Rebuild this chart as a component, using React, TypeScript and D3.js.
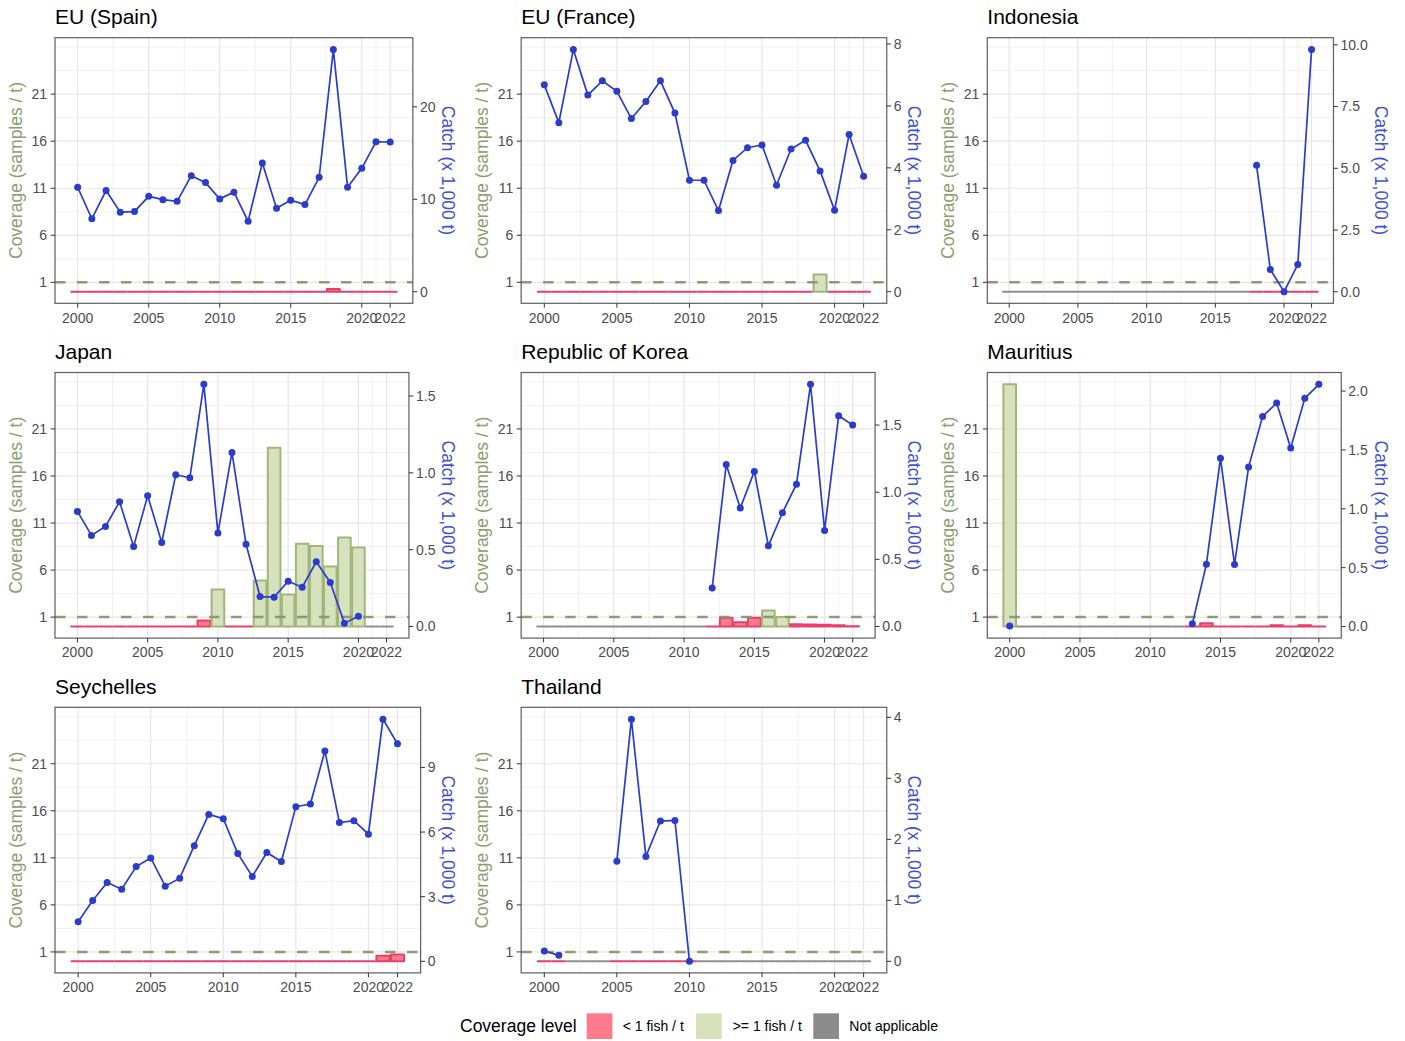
import React from "react";
import * as d3 from "d3";

const FONT = "'Liberation Sans', Arial, Helvetica, sans-serif";

const YEARS = [2000, 2001, 2002, 2003, 2004, 2005, 2006, 2007, 2008, 2009, 2010, 2011, 2012, 2013, 2014, 2015, 2016, 2017, 2018, 2019, 2020, 2021, 2022];
const X_TICKS = [2000, 2005, 2010, 2015, 2020, 2022];
const X_MINOR = [2002.5, 2007.5, 2012.5, 2017.5, 2021];
const Y_TICKS = [1, 6, 11, 16, 21];
const Y_MINOR = [3.5, 8.5, 13.5, 18.5, 23.5, 26];

// L = "< 1 fish / t", G = ">= 1 fish / t", N = "Not applicable"
const LEVEL_KEYS = ["L", "G", "N"];
const LEVEL_LABELS = ["< 1 fish / t", ">= 1 fish / t", "Not applicable"];

const _ = null;

// EU (Spain)
const SPAIN_CATCH = [11.3, 7.88, 10.94, 8.6, 8.67, 10.32, 9.96, 9.78, 12.55, 11.8, 10.04, 10.76, 7.63, 13.92, 9.03, 9.89, 9.42, 12.37, 26.19, 11.3, 13.35, 16.22, 16.19];
const SPAIN_COV = [0, 0, 0, 0, 0, 0, 0, 0, 0, 0, 0, 0, 0, 0, 0, 0, 0, 0, 0.3, 0, 0, 0, 0];
const SPAIN_LEVEL = "LLLLLLLLLLLLLLLLLLLLLLL";
const SPAIN_SEC = [0, 10, 20];
const SPAIN_SEC_LABELS = ["0", "10", "20"];

// EU (France)
const FRANCE_CATCH = [6.68, 5.46, 7.82, 6.35, 6.81, 6.47, 5.59, 6.14, 6.81, 5.77, 3.6, 3.6, 2.62, 4.24, 4.65, 4.74, 3.44, 4.61, 4.89, 3.9, 2.63, 5.08, 3.73];
const FRANCE_COV = [0, 0, 0, 0, 0, 0, 0, 0, 0, 0, 0, 0, 0, 0, 0, 0, 0, 0, 0, 1.84, 0, 0, 0];
const FRANCE_LEVEL = "LLLLLLLLLLLLLLLLLLLGLLL";
const FRANCE_SEC = [0, 2, 4, 6, 8];
const FRANCE_SEC_LABELS = ["0", "2", "4", "6", "8"];

// Indonesia
const INDO_CATCH = [_, _, _, _, _, _, _, _, _, _, _, _, _, _, _, _, _, _, 5.12, 0.9, 0.0, 1.1, 9.81];
const INDO_COV = [0, 0, 0, 0, 0, 0, 0, 0, 0, 0, 0, 0, 0, 0, 0, 0, 0, 0, 0, 0, 0, 0, 0];
const INDO_LEVEL = "NNNNNNNNNNNNNNNNNNLLLLL";
const INDO_SEC = [0, 2.5, 5, 7.5, 10];
const INDO_SEC_LABELS = ["0.0", "2.5", "5.0", "7.5", "10.0"];

// Japan
const JAPAN_CATCH = [0.749, 0.593, 0.651, 0.812, 0.521, 0.851, 0.547, 0.988, 0.968, 1.576, 0.608, 1.133, 0.536, 0.195, 0.191, 0.295, 0.256, 0.421, 0.287, 0.022, 0.067, _, _];
const JAPAN_COV = [0, 0, 0, 0, 0, 0, 0, 0, 0, 0.64, 3.94, 0, 0, 4.9, 19.0, 3.4, 8.8, 8.55, 6.39, 9.47, 8.4, 0, 0];
const JAPAN_LEVEL = "LLLLLLLLLLGLLGGGGGGGGNN";
const JAPAN_SEC = [0, 0.5, 1, 1.5];
const JAPAN_SEC_LABELS = ["0.0", "0.5", "1.0", "1.5"];

// Republic of Korea
const KOREA_CATCH = [_, _, _, _, _, _, _, _, _, _, _, _, 0.286, 1.207, 0.882, 1.155, 0.601, 0.847, 1.06, 1.803, 0.715, 1.569, 1.5];
const KOREA_COV = [0, 0, 0, 0, 0, 0, 0, 0, 0, 0, 0, 0, 0, 0.92, 0.46, 0.92, 1.7, 1.0, 0.25, 0.21, 0.18, 0.14, 0.04];
const KOREA_LEVEL = "NNNNNNNNNNNNLLLLGGLLLLL";
const KOREA_SEC = [0, 0.5, 1, 1.5];
const KOREA_SEC_LABELS = ["0.0", "0.5", "1.0", "1.5"];

// Mauritius
const MAUR_CATCH = [0.005, _, _, _, _, _, _, _, _, _, _, _, _, 0.023, 0.53, 1.43, 0.527, 1.354, 1.785, 1.898, 1.516, 1.938, 2.057];
const MAUR_COV = [25.74, 0, 0, 0, 0, 0, 0, 0, 0, 0, 0, 0, 0, 0, 0.35, 0, 0, 0, 0, 0.14, 0, 0.14, 0];
const MAUR_LEVEL = "GNNNNNNNNNNNNLLLLLLLLLL";
const MAUR_SEC = [0, 0.5, 1, 1.5, 2];
const MAUR_SEC_LABELS = ["0.0", "0.5", "1.0", "1.5", "2.0"];

// Seychelles
const SEY_CATCH = [1.84, 2.82, 3.66, 3.35, 4.4, 4.8, 3.49, 3.86, 5.37, 6.82, 6.62, 5.0, 3.94, 5.05, 4.63, 7.18, 7.3, 9.76, 6.44, 6.53, 5.9, 11.24, 10.1];
const SEY_COV = [0, 0, 0, 0, 0, 0, 0, 0, 0, 0, 0, 0, 0, 0, 0, 0, 0, 0, 0, 0, 0, 0.58, 0.72];
const SEY_LEVEL = "LLLLLLLLLLLLLLLLLLLLLLL";
const SEY_SEC = [0, 3, 6, 9];
const SEY_SEC_LABELS = ["0", "3", "6", "9"];

// Thailand
const THAI_CATCH = [0.169, 0.098, _, _, _, 1.64, 3.97, 1.72, 2.3, 2.31, 0.0, _, _, _, _, _, _, _, _, _, _, _, _];
const THAI_COV = [0, 0, 0, 0, 0, 0, 0, 0, 0, 0, 0, 0, 0, 0, 0, 0, 0, 0, 0, 0, 0, 0, 0];
const THAI_LEVEL = "LLNNNLLLLLLNNNNNNNNNNNN";
const THAI_SEC = [0, 1, 2, 3, 4];
const THAI_SEC_LABELS = ["0", "1", "2", "3", "4"];

const PANELS = [
  { title: "EU (Spain)", catch: SPAIN_CATCH, cov: SPAIN_COV, level: SPAIN_LEVEL, sec: SPAIN_SEC, secLabels: SPAIN_SEC_LABELS },
  { title: "EU (France)", catch: FRANCE_CATCH, cov: FRANCE_COV, level: FRANCE_LEVEL, sec: FRANCE_SEC, secLabels: FRANCE_SEC_LABELS },
  { title: "Indonesia", catch: INDO_CATCH, cov: INDO_COV, level: INDO_LEVEL, sec: INDO_SEC, secLabels: INDO_SEC_LABELS },
  { title: "Japan", catch: JAPAN_CATCH, cov: JAPAN_COV, level: JAPAN_LEVEL, sec: JAPAN_SEC, secLabels: JAPAN_SEC_LABELS },
  { title: "Republic of Korea", catch: KOREA_CATCH, cov: KOREA_COV, level: KOREA_LEVEL, sec: KOREA_SEC, secLabels: KOREA_SEC_LABELS },
  { title: "Mauritius", catch: MAUR_CATCH, cov: MAUR_COV, level: MAUR_LEVEL, sec: MAUR_SEC, secLabels: MAUR_SEC_LABELS },
  { title: "Seychelles", catch: SEY_CATCH, cov: SEY_COV, level: SEY_LEVEL, sec: SEY_SEC, secLabels: SEY_SEC_LABELS },
  { title: "Thailand", catch: THAI_CATCH, cov: THAI_COV, level: THAI_LEVEL, sec: THAI_SEC, secLabels: THAI_SEC_LABELS },
];

const COV_MAX = d3.max(PANELS.flatMap((p) => p.cov)) as number;

const FILL: Record<string, string> = { L: "#FF7A8C", G: "#D6E2BB", N: "#8C8C8C" };
const STROKE: Record<string, string> = { L: "#E8406A", G: "#A2B57F", N: "#8E8E8E" };

const BLUE = "#2B3CCB";
const OLIVE_TITLE = "#8C9E6E";
const BLUE_TITLE = "#4050D8";
const TICK_TXT = "#4D4D4D";

const COL_W = 466.15;
const ROW_H = 334.8;
const PANEL_H = 265.6;
const X_DOMAIN = [1998.405, 2023.595];
const Y_DOMAIN = [-1.23, 27.0];

function textW(s: string, size = 14) {
  let w = 0;
  for (const ch of s) w += ch === "." ? 0.278 : 0.556;
  return w * size;
}

function Panel({ p, col, row }: any) {
  const cx = col * COL_W;
  const top = 37.7 + row * ROW_H;
  const bottom = top + PANEL_H;
  const left = cx + 55;
  const labelW = Math.max(...p.secLabels.map((s: string) => textW(s)));
  const right = cx + 440 - 4.5 - labelW - 2.7 - 4.4;
  const x = d3.scaleLinear().domain(X_DOMAIN).range([left, right]);
  const y = d3.scaleLinear().domain(Y_DOMAIN).range([bottom, top]);
  const maxCatch = d3.max(p.catch as (number | null)[], (d) => (d == null ? undefined : d)) as number;
  const f = COV_MAX / maxCatch;
  const pts = YEARS.map((yr, i) => ({ yr, c: p.catch[i] as number | null }));
  const line = d3
    .line<{ yr: number; c: number | null }>()
    .defined((d) => d.c != null)
    .x((d) => x(d.yr))
    .y((d) => y((d.c as number) * f));
  const midY = (top + bottom) / 2;
  const bw = 0.45;

  return (
    <g>
      <text x={left} y={top - 13.3} fontSize={21} fill="#000" fontFamily={FONT}>
        {p.title}
      </text>
      <rect x={left} y={top} width={right - left} height={bottom - top} fill="#fff" />
      {Y_MINOR.map((v) => (
        <line key={"ym" + v} x1={left} x2={right} y1={y(v)} y2={y(v)} stroke="#EBEBEB" strokeWidth={0.7} />
      ))}
      {X_MINOR.map((v) => (
        <line key={"xm" + v} x1={x(v)} x2={x(v)} y1={top} y2={bottom} stroke="#EBEBEB" strokeWidth={0.7} />
      ))}
      {Y_TICKS.map((v) => (
        <line key={"yg" + v} x1={left} x2={right} y1={y(v)} y2={y(v)} stroke="#E6E6E6" strokeWidth={1.2} />
      ))}
      {X_TICKS.map((v) => (
        <line key={"xg" + v} x1={x(v)} x2={x(v)} y1={top} y2={bottom} stroke="#E6E6E6" strokeWidth={1.2} />
      ))}
      {YEARS.map((yr, i) => {
        const lv = p.level[i];
        const x0 = x(yr - bw);
        const x1 = x(yr + bw);
        const y0 = y(0);
        const y1 = y(p.cov[i]);
        return (
          <path
            key={"b" + yr}
            d={`M${x0},${y0}H${x1}V${y1}H${x0}Z`}
            fill={FILL[lv]}
            stroke={STROKE[lv]}
            strokeWidth={2}
            strokeLinejoin="round"
          />
        );
      })}
      <line
        x1={left}
        x2={right}
        y1={y(1)}
        y2={y(1)}
        stroke="#8A9670"
        strokeWidth={2.5}
        strokeDasharray="10.5,11.5"
        opacity={0.95}
      />
      <path d={line(pts) || ""} fill="none" stroke={BLUE} strokeWidth={1.7} />
      {pts
        .filter((d) => d.c != null)
        .map((d) => (
          <circle key={"p" + d.yr} cx={x(d.yr)} cy={y((d.c as number) * f)} r={3.5} fill={BLUE} />
        ))}
      <rect x={left} y={top} width={right - left} height={bottom - top} fill="none" stroke="#5E5E5E" strokeWidth={1.2} />
      {/* left axis */}
      {Y_TICKS.map((v) => (
        <g key={"yt" + v}>
          <line x1={left - 4.4} x2={left} y1={y(v)} y2={y(v)} stroke="#333" strokeWidth={1} />
          <text x={left - 7.9} y={y(v)} dy="0.35em" textAnchor="end" fontSize={14} fill={TICK_TXT} fontFamily={FONT}>
            {v}
          </text>
        </g>
      ))}
      {/* right axis */}
      {p.sec.map((v: number, i: number) => (
        <g key={"st" + v}>
          <line x1={right} x2={right + 4.4} y1={y(v * f)} y2={y(v * f)} stroke="#333" strokeWidth={1} />
          <text x={right + 7.1} y={y(v * f)} dy="0.35em" textAnchor="start" fontSize={14} fill={TICK_TXT} fontFamily={FONT}>
            {p.secLabels[i]}
          </text>
        </g>
      ))}
      {/* bottom axis */}
      {X_TICKS.map((v) => (
        <g key={"xt" + v}>
          <line x1={x(v)} x2={x(v)} y1={bottom} y2={bottom + 4.4} stroke="#333" strokeWidth={1} />
          <text x={x(v)} y={bottom + 19.3} textAnchor="middle" fontSize={14} fill={TICK_TXT} fontFamily={FONT}>
            {v}
          </text>
        </g>
      ))}
      <text
        transform={`translate(${cx + 22},${midY}) rotate(-90)`}
        textAnchor="middle"
        fontSize={17.5}
        fill={OLIVE_TITLE}
        fontFamily={FONT}
      >
        Coverage (samples / t)
      </text>
      <text
        transform={`translate(${cx + 442.3},${midY}) rotate(90)`}
        textAnchor="middle"
        fontSize={17.5}
        fill={BLUE_TITLE}
        fontFamily={FONT}
      >
        Catch (x 1,000 t)
      </text>
    </g>
  );
}

const LEGEND_KEY_X = [586.7, 696, 813.3];
const LEGEND_TEXT_X = [622.7, 732.7, 849.3];

export default function App() {
  return (
    <svg width={1405} height={1041} style={{ position: "absolute", left: 0, top: 0, background: "#fff" }}>
      <rect x={0} y={0} width={1405} height={1041} fill="#fff" />
      {PANELS.map((p, i) => (
        <Panel key={p.title} p={p} col={i % 3} row={Math.floor(i / 3)} />
      ))}
      <text x={460} y={1032} fontSize={17.5} fill="#000" fontFamily={FONT}>
        Coverage level
      </text>
      {LEVEL_KEYS.map((k, i) => (
        <g key={k}>
          <rect x={LEGEND_KEY_X[i]} y={1013.3} width={25.7} height={25.7} fill={FILL[k]} />
          <text x={LEGEND_TEXT_X[i]} y={1031} fontSize={14} fill="#000" fontFamily={FONT}>
            {LEVEL_LABELS[i]}
          </text>
        </g>
      ))}
    </svg>
  );
}
